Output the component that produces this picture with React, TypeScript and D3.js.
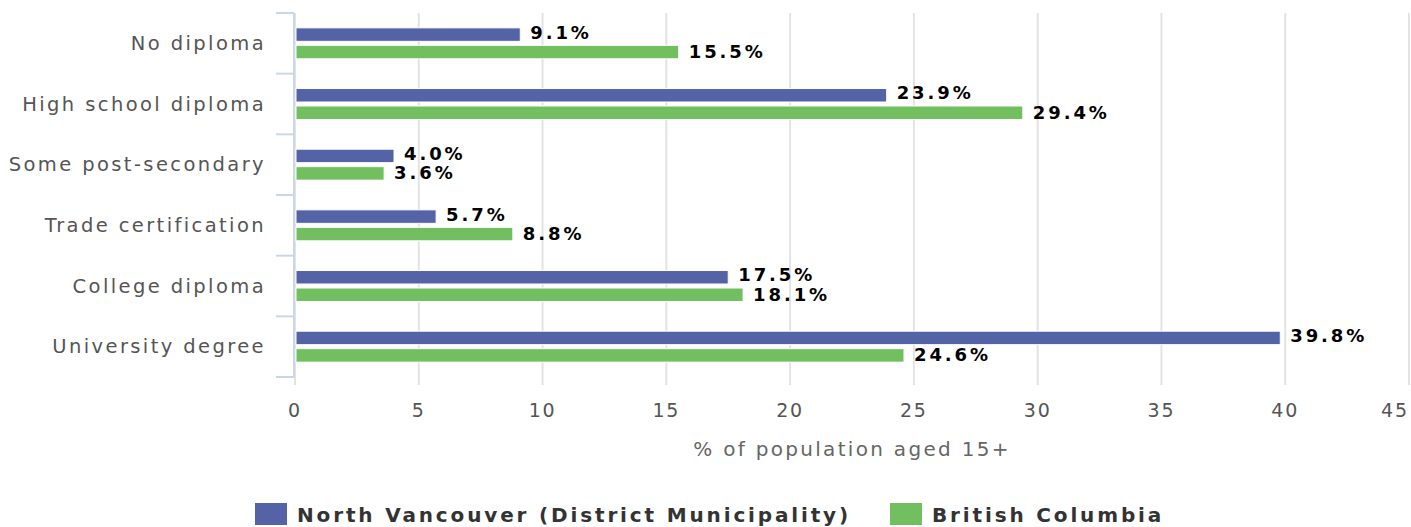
import React from "react";
import * as d3 from "d3";

const categories = [
  "No diploma",
  "High school diploma",
  "Some post-secondary",
  "Trade certification",
  "College diploma",
  "University degree",
];
const seriesNames = ["North Vancouver (District Municipality)", "British Columbia"];
const northVancouver = [9.1, 23.9, 4.0, 5.7, 17.5, 39.8];
const britishColumbia = [15.5, 29.4, 3.6, 8.8, 18.1, 24.6];
const xTicks = [0, 5, 10, 15, 20, 25, 30, 35, 40, 45];
const colors = ["#5462a6", "#72bf5f"];

const W = 1411;
const H = 527;
const left = 295;
const right = 1409;
const top = 13;
const bottom = 377;
const FONT = "'DejaVu Sans', Verdana, sans-serif";

export default function App() {
  const x = d3.scaleLinear().domain([0, 45]).range([left, right]);
  const y = d3.scaleBand<string>().domain(categories).range([top, bottom]);
  const inner = d3
    .scaleBand<number>()
    .domain([0, 1])
    .range([0, y.bandwidth()])
    .paddingInner(0.23)
    .paddingOuter(0.85);
  const series = [northVancouver, britishColumbia];
  const boundaries = d3.range(categories.length + 1).map((i) => top + i * y.step());

  return (
    <svg
      width={W}
      height={H}
      style={{ position: "absolute", left: 0, top: 0, background: "#fff" }}
      fontFamily={FONT}
    >
      {/* gridlines */}
      {xTicks.map((t) => (
        <line
          key={"g" + t}
          x1={x(t)}
          x2={x(t)}
          y1={top}
          y2={bottom + 8}
          stroke="#e3e3e3"
          strokeWidth={2}
        />
      ))}
      {/* y axis line & ticks */}
      <line x1={left - 1} x2={left - 1} y1={top} y2={bottom} stroke="#ccd6eb" strokeWidth={2} />
      {boundaries.map((b, i) => (
        <line key={"t" + i} x1={left - 19} x2={left - 1} y1={b} y2={b} stroke="#ccd6eb" strokeWidth={2} />
      ))}
      {/* category labels */}
      {categories.map((c) => (
        <text
          key={c}
          x={266}
          y={(y(c) as number) + y.bandwidth() / 2 + 1}
          textAnchor="end"
          dominantBaseline="middle"
          fontSize={19.5}
          letterSpacing={2.4}
          fill="#555"
        >
          {c}
        </text>
      ))}
      {/* bars */}
      {series.map((vals, si) =>
        vals.map((v, i) => {
          const by = (y(categories[i]) as number) + (inner(si) as number);
          return (
            <g key={si + "-" + i}>
              <rect
                x={x(0) + 1}
                y={by}
                width={x(v) - x(0) - 1}
                height={inner.bandwidth()}
                fill={colors[si]}
                stroke="#fff"
                strokeWidth={1}
              />
              <text
                x={x(v) + 10}
                y={by + inner.bandwidth() / 2 + (si === 0 ? -1 : 1)}
                dominantBaseline="middle"
                fontSize={18}
                fontWeight="bold"
                letterSpacing={2.9}
                fill="#000"
              >
                {v.toFixed(1) + "%"}
              </text>
            </g>
          );
        })
      )}
      {/* x tick labels */}
      {xTicks.map((t) => (
        <text
          key={"l" + t}
          x={t === 45 ? x(t) - 14 : x(t)}
          y={411}
          textAnchor="middle"
          dominantBaseline="middle"
          fontSize={19}
          letterSpacing={1.8}
          fill="#555"
        >
          {t}
        </text>
      ))}
      {/* axis title */}
      <text
        x={(left + right) / 2}
        y={450}
        textAnchor="middle"
        dominantBaseline="middle"
        fontSize={20}
        letterSpacing={2.3}
        fill="#666"
      >
        % of population aged 15+
      </text>
      {/* legend */}
      <rect x={255} y={503} width={32} height={22} fill={colors[0]} />
      <text x={297} y={522} fontSize={20} fontWeight="bold" letterSpacing={2.85} fill="#333">
        {seriesNames[0]}
      </text>
      <rect x={890} y={503} width={32} height={22} fill={colors[1]} />
      <text x={932} y={522} fontSize={20} fontWeight="bold" letterSpacing={2.85} fill="#333">
        {seriesNames[1]}
      </text>
    </svg>
  );
}
